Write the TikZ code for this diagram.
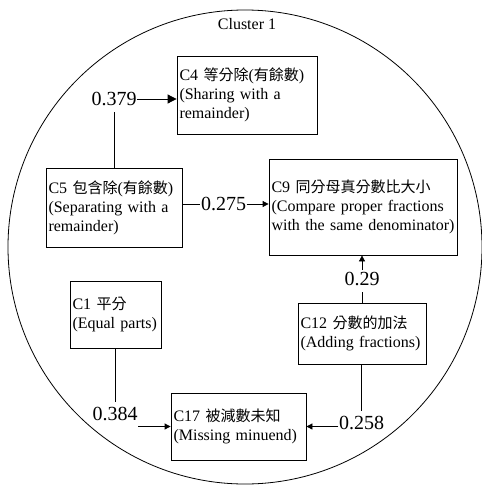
\documentclass[tikz,border=0pt]{standalone}
\usepackage{fontspec}
\setmainfont{Liberation Serif}
\newfontfamily\cjk{Noto Sans CJK TC}
\usetikzlibrary{arrows.meta}
\newcommand{\zh}[1]{{\cjk\fontsize{15}{19}\selectfont #1}}
\begin{document}
\begin{tikzpicture}[x=1pt,y=-1pt,
  box/.style={draw, line width=0.8pt, inner xsep=2.5pt, inner ysep=0pt, align=left,
              font=\fontsize{16}{19}\selectfont},
  lab/.style={inner xsep=0.5pt, inner ysep=2pt, font=\fontsize{20}{22}\selectfont},
  conn/.style={line width=0.8pt},
  arr/.style={line width=0.8pt, -{Triangle[length=6pt,width=6pt]}}]
\useasboundingbox (0,0) rectangle (482,485);
\node[circle, draw, line width=0.8pt, minimum size=474pt, inner sep=0pt] (cluster) at (245,247) {};
\node[font=\fontsize{16}{19}\selectfont] (title) at (247,24) {Cluster 1};

\node[box, minimum width=140pt, minimum height=78pt, text width=135pt] (c4) at (247,95)
  {\mbox{C4 \zh{等分除}(\zh{有餘數})}\\\mbox{(Sharing with a}\\\mbox{remainder)}};
\node[box, minimum width=136pt, minimum height=79pt, text width=131pt] (c5) at (114,207.5)
  {\mbox{C5 \zh{包含除}(\zh{有餘數})}\\\mbox{(Separating with a}\\\mbox{remainder)}};
\node[box, minimum width=188pt, minimum height=96pt, text width=183pt] (c9) at (363,207)
  {\mbox{C9 \zh{同分母真分數比大小}}\\\mbox{(Compare proper fractions}\\\mbox{with the same denominator)}};
\node[box, minimum width=128pt, minimum height=61pt, text width=123pt] (c12) at (362,333.5)
  {\mbox{C12 \zh{分數的加法}}\\\mbox{(Adding fractions)}};
\node[box, minimum width=91pt, minimum height=67pt, text width=86pt] (c1) at (115.5,314.5)
  {\mbox{C1 \zh{平分}}\\\mbox{(Equal parts)}};
\node[box, minimum width=135pt, minimum height=67pt, text width=130pt] (c17) at (238.5,426.5)
  {\mbox{C17 \zh{被減數未知}}\\\mbox{(Missing minuend)}};

\node[lab] (l379) at (114,99) {0.379};
\node[lab] (l275) at (223.5,204) {0.275};
\node[lab] (l29) at (362,279) {0.29};
\node[lab] (l384) at (115,414) {0.384};
\node[lab] (l258) at (361.5,423) {0.258};

\draw[conn] (c5.north -| l379) -- ([yshift=-4pt]l379.south);
\draw[arr, -{Triangle[length=9pt,width=9pt]}] (l379.east) -- (l379.east -| c4.west);

\draw[conn] (c5.east |- l275) -- (l275.west);
\draw[arr] (l275.east) -- (l275.east -| c9.west);

\draw[conn] (c12.north -| l29) -- ([yshift=-4pt]l29.south);
\draw[arr] (l29.north) -- (l29.north |- c9.south);

\draw[conn] (c1.south) -- ([yshift=3pt]l384.north -| c1.south);
\draw[arr] (l384.east |- c17) -- (c17.west);

\draw[conn] (c12.south -| l258) -- ([yshift=3pt]l258.north);
\draw[arr] (l258.west |- c17) -- (c17.east);
\end{tikzpicture}
\end{document}
